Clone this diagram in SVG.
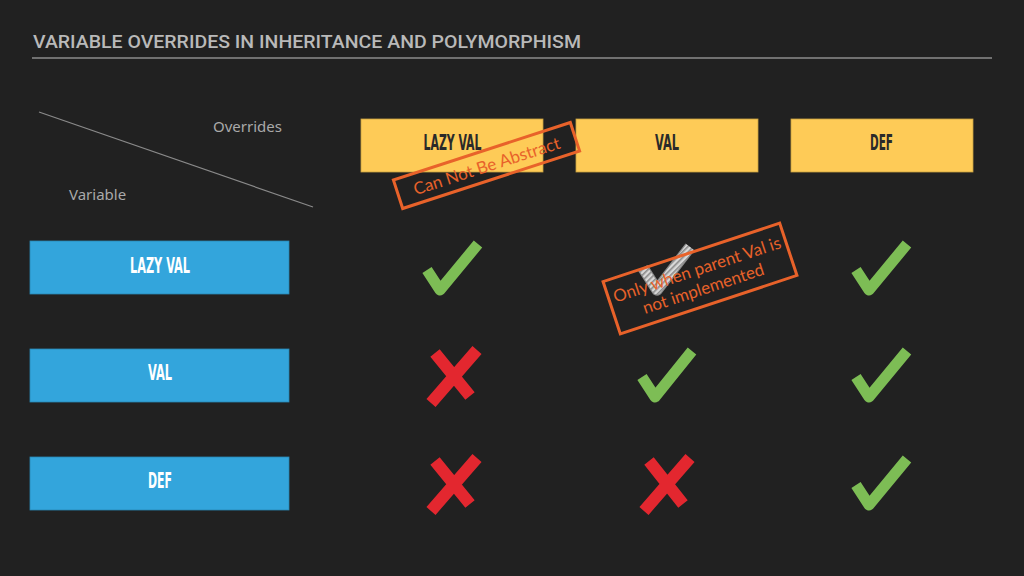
<svg xmlns="http://www.w3.org/2000/svg" width="1024" height="576" viewBox="0 0 1024 576">
<defs>
<style>
.title{font-family:Roboto,"DejaVu Sans",sans-serif;font-weight:500;font-size:18px;fill:#b9b9b9}
.axis{font-family:"Noto Sans","Open Sans",sans-serif;font-size:15px;fill:#a9a9a9}
.hdr{fill:#fecb57;stroke:#c9a040;stroke-width:0.8}
.var{fill:#33a5dc;stroke:#2a88b4;stroke-width:0.8}
.lbl{font-family:"DejaVu Sans",sans-serif;font-stretch:condensed;font-weight:bold;font-size:21px;text-anchor:middle}
.dark{fill:#2a2a2a}
.light{fill:#ffffff}
.ok{fill:none;stroke:#7dbd55;stroke-width:11;stroke-linejoin:round;stroke-linecap:butt}
.no{fill:none;stroke:#e3272f;stroke-width:12;stroke-linecap:butt}
.stamp{fill:none;stroke:#e8622a;stroke-width:3}
.stxt{font-family:Lato,"Noto Sans",sans-serif;font-size:17px;fill:#e8622a;text-anchor:middle}
</style>
<pattern id="hatch" width="4" height="4" patternUnits="userSpaceOnUse" patternTransform="rotate(45)">
<rect width="4" height="4" fill="#d8d8d8"/>
<rect width="1.6" height="4" fill="#8a8a8a"/>
</pattern>
</defs>
<rect width="1024" height="576" fill="#212121"/>

<g id="title">
<text class="title" x="33" y="48" textLength="548" lengthAdjust="spacingAndGlyphs">VARIABLE OVERRIDES IN INHERITANCE AND POLYMORPHISM</text>
<line x1="32" y1="58" x2="992" y2="58" stroke="#8c8c8c" stroke-width="1.5"/>
</g>

<g id="corner">
<line x1="39" y1="112" x2="313" y2="207" stroke="#8a8a8a" stroke-width="1.2"/>
<text class="axis" x="213" y="132">Overrides</text>
<text class="axis" x="69" y="200">Variable</text>
</g>

<g id="hdr-lazyval"><rect class="hdr" x="361" y="119" width="182" height="53"/><text class="lbl dark" x="452.5" y="150" textLength="58" lengthAdjust="spacingAndGlyphs">LAZY VAL</text></g>
<g id="hdr-val"><rect class="hdr" x="576" y="119" width="182" height="53"/><text class="lbl dark" x="667" y="150" textLength="24" lengthAdjust="spacingAndGlyphs">VAL</text></g>
<g id="hdr-def"><rect class="hdr" x="791" y="119" width="182" height="53"/><text class="lbl dark" x="881.5" y="150" textLength="23" lengthAdjust="spacingAndGlyphs">DEF</text></g>

<g id="var-lazyval"><rect class="var" x="30" y="241" width="259" height="53"/><text class="lbl light" x="160" y="273" textLength="60" lengthAdjust="spacingAndGlyphs">LAZY VAL</text></g>
<g id="var-val"><rect class="var" x="30" y="349" width="259" height="53"/><text class="lbl light" x="160" y="380" textLength="24" lengthAdjust="spacingAndGlyphs">VAL</text></g>
<g id="var-def"><rect class="var" x="30" y="457" width="259" height="53"/><text class="lbl light" x="160" y="488" textLength="24" lengthAdjust="spacingAndGlyphs">DEF</text></g>

<g id="marks">
<path class="ok" d="M427 270 L440 290 L478 244"/>
<path class="ok" d="M856 270 L869 290 L907 244"/>
<path class="ok" d="M642 377 L655 397 L692 351"/>
<path class="ok" d="M856 377 L869 397 L907 351"/>
<path class="ok" d="M856 485 L869 505 L907 459"/>
<path class="no" d="M477 350 L431 403 M435 353 L470 396"/>
<path class="no" d="M477 458 L431 511 M435 461 L470 504"/>
<path class="no" d="M690 458 L644 511 M649 461 L683 504"/>
<path d="M643 268 L657 290 L690 247" fill="none" stroke="#8a8a8a" stroke-width="11.5" stroke-linejoin="round"/>
<path d="M643 268 L657 290 L690 247" fill="none" stroke="url(#hatch)" stroke-width="9" stroke-linejoin="round"/>
</g>

<g id="stamp-abstract" transform="rotate(-18 486.5 165.5)">
<rect class="stamp" x="393.5" y="150.5" width="186" height="30"/>
<text class="stxt" x="486.5" y="172">Can Not Be Abstract</text>
</g>

<g id="stamp-parent" transform="rotate(-18.3 700 278.5)">
<rect class="stamp" x="607" y="251" width="186" height="55"/>
<text class="stxt" x="700" y="275">Only when parent Val is</text>
<text class="stxt" x="700" y="295">not implemented</text>
</g>
</svg>
